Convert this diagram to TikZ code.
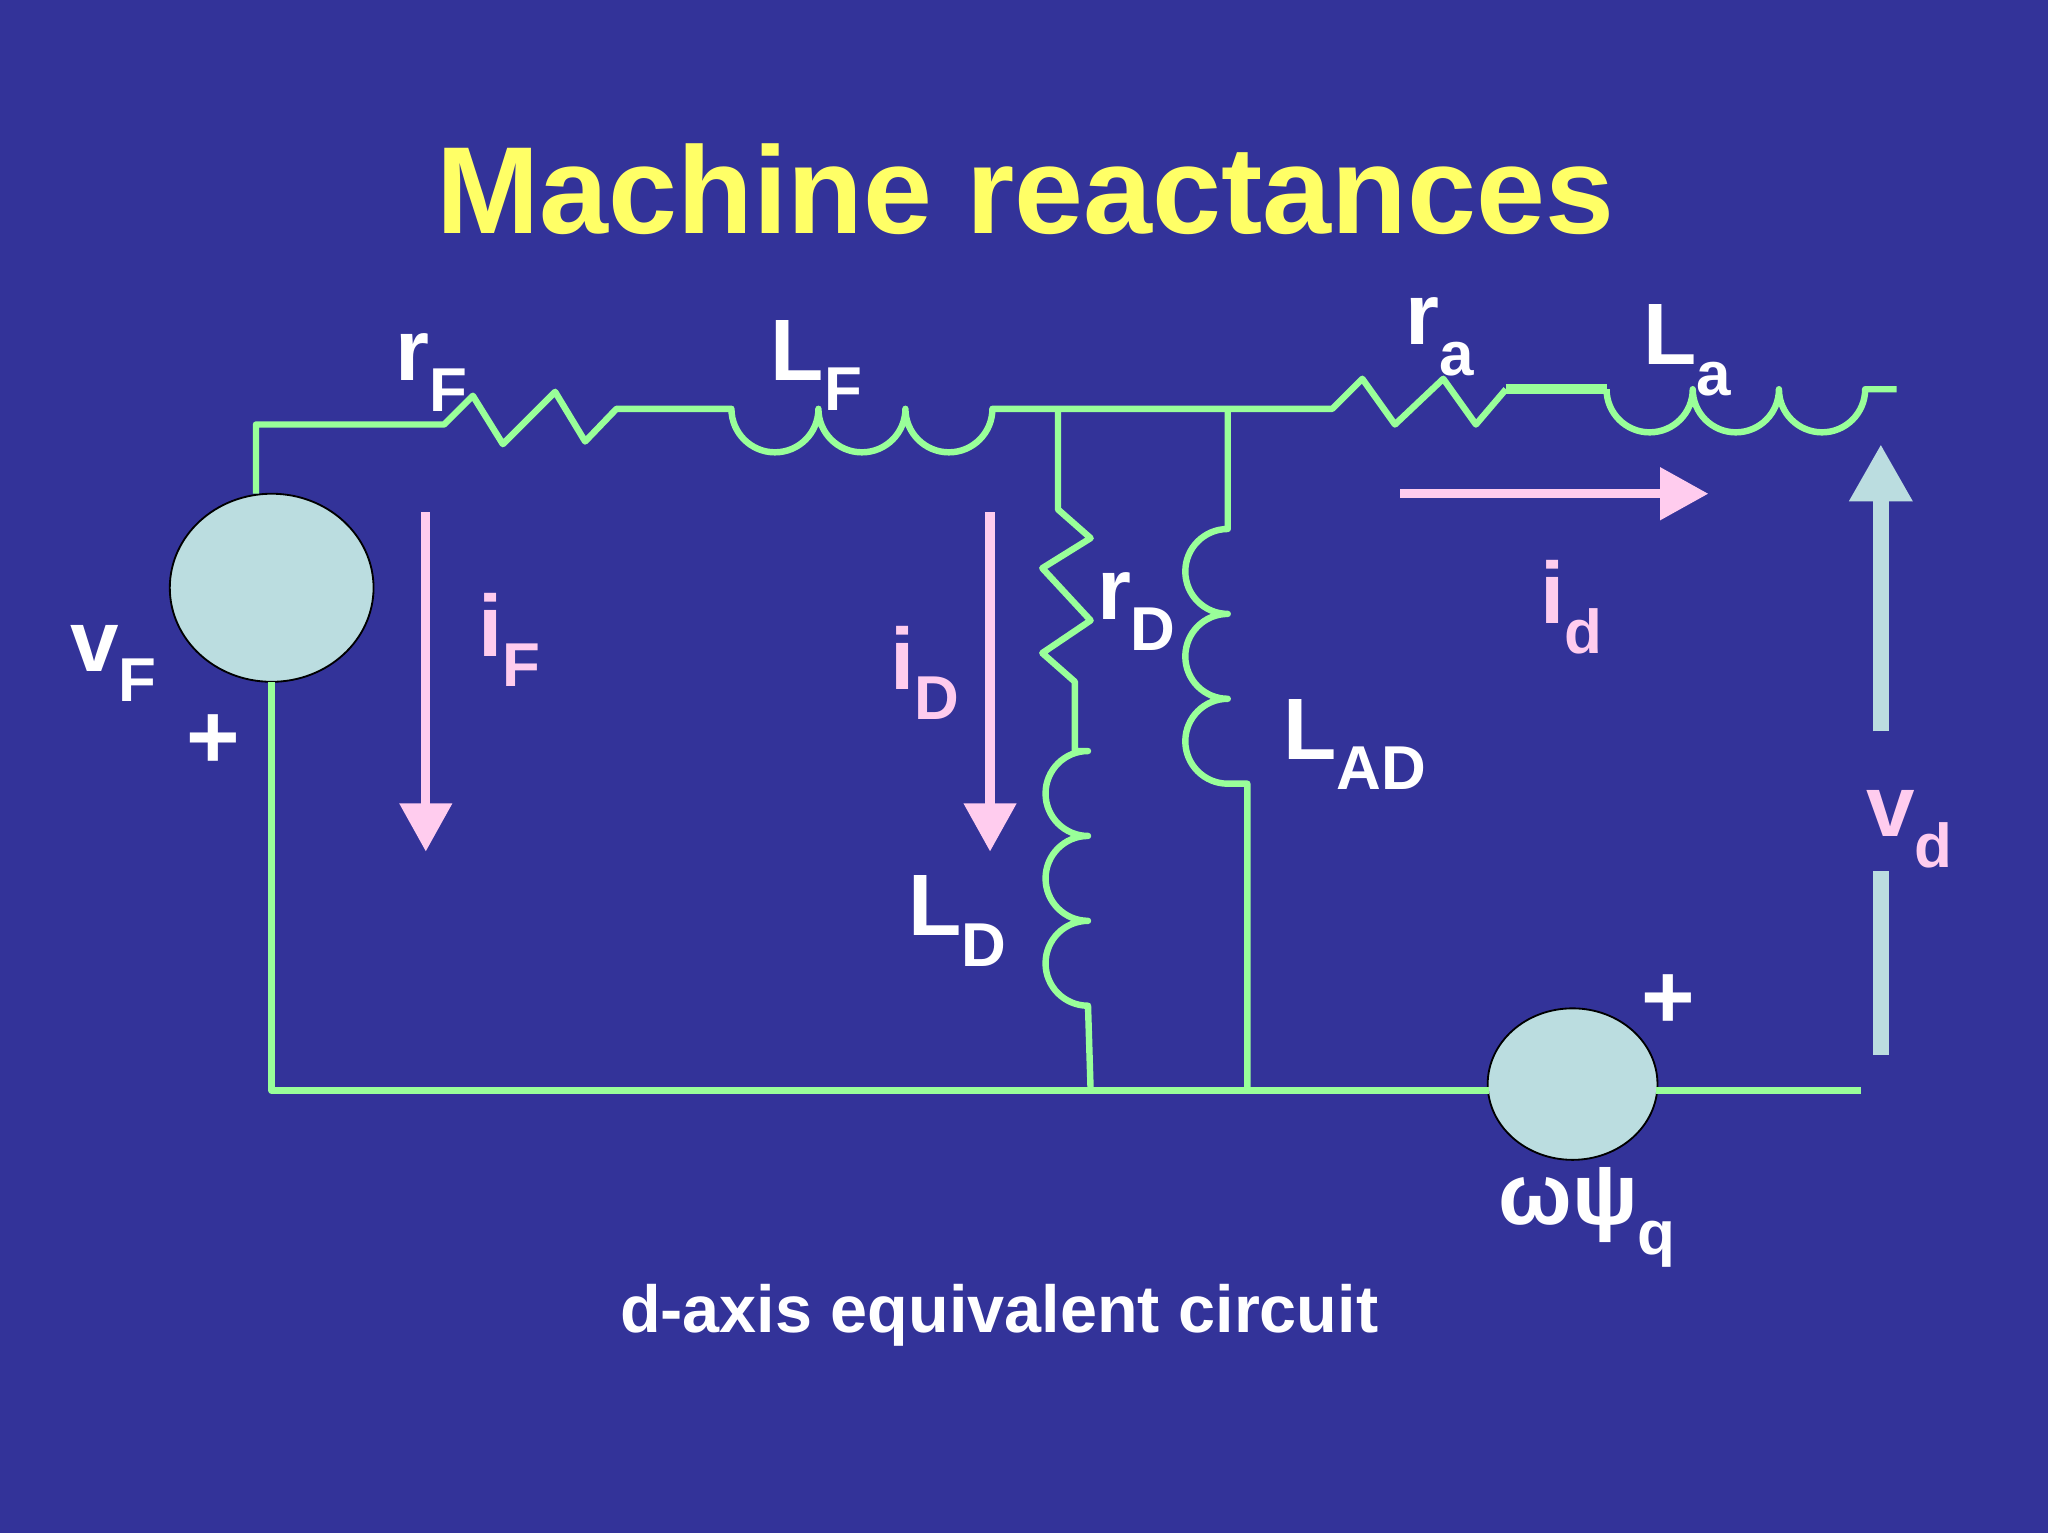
\documentclass[tikz,border=0pt]{standalone}
\usepackage{fontspec}
\setmainfont{Liberation Sans}
\usetikzlibrary{arrows.meta}
\definecolor{bg}{HTML}{333399}
\definecolor{wire}{HTML}{99FF99}
\definecolor{ttl}{HTML}{FFFF66}
\definecolor{pnk}{HTML}{FFCCEE}
\definecolor{src}{HTML}{BBDDE0}
\newcommand\lb[3][38]{\fontsize{#1}{#1}\selectfont\bfseries #2\raisebox{-0.35em}{\fontsize{27}{27}\selectfont #3}}
\begin{document}
\begin{tikzpicture}[x=0.02cm,y=-0.02cm,
  w/.style={draw=wire,line width=2.8pt,line join=round},
  cur/.style={draw=pnk,line width=4pt,-{Triangle[width=22pt,length=21pt]}},
  srcs/.style={fill=src,draw=black,line width=0.8pt},
  wl/.style={text=white,inner sep=0pt},
  pl/.style={text=pnk,inner sep=0pt}]
\fill[bg] (0,0) rectangle (1568,1174);
\useasboundingbox (0,0) rectangle (1568,1174);
\node[text=ttl,font=\fontsize{54}{54}\selectfont\bfseries] (title) at (785,145) {Machine reactances};
% sources
\path[srcs] (208,450) ellipse [x radius=78,y radius=72];
\coordinate (s1) at (208,450);
\path[srcs] (1204,830) ellipse [x radius=65,y radius=58];
\coordinate (s2) at (1204,830);
% top wires
\draw[w] (196,378) -- (196,325) -- (340,325) -- (362,303) -- (385,340) -- (425,300) -- (448,338) -- (472,313) -- (560,313)
  arc[start angle=180,end angle=0,radius=33.3] arc[start angle=180,end angle=0,radius=33.3] arc[start angle=180,end angle=0,radius=33.3]
  -- (1020,313) -- (1043,290) -- (1068,325) -- (1105,290) -- (1130,325) -- (1153,298);
\draw[draw=wire,line width=4.5pt] (1153,298) -- (1230,298);
\draw[w] (1230,298) arc[start angle=180,end angle=0,radius=33] arc[start angle=180,end angle=0,radius=33] arc[start angle=180,end angle=0,radius=33] -- (1452,298);
% rD LD branch
\draw[w] (810,313) -- (810,390) -- (835,412) -- (798,435) -- (835,475) -- (798,500) -- (823,522) -- (823,575) -- (833,575)
  arc[start angle=270,end angle=90,radius=32.5] arc[start angle=270,end angle=90,radius=32.5] arc[start angle=270,end angle=90,radius=32.5]
  -- (835,835);
% LAD branch
\draw[w] (940,313) -- (940,405) arc[start angle=270,end angle=90,radius=32.5] arc[start angle=270,end angle=90,radius=32.5] arc[start angle=270,end angle=90,radius=32.5] -- (955,600) -- (955,835);
% bottom
\draw[w] (208,522) -- (208,835) -- (1140,835);
\draw[w] (1268,835) -- (1425,835);
% currents
\draw[cur] (326,392) -- (326,652);
\draw[cur] (758,392) -- (758,652);
\draw[cur] (1072,378) -- (1308,378);
\draw[draw=src,line width=7pt,-{Triangle[width=26pt,length=25pt]}] (1440,560) -- (1440,340);
\draw[draw=src,line width=7pt] (1440,667) -- (1440,808);
% labels
\node[wl] (lrF) at (330,285) {\lb{r}{F}};
\node[wl] (lLF) at (625,280) {\lb{L}{F}};
\node[wl] (lra) at (1102,258) {\lb{r}{a}};
\node[wl] (lLa) at (1292,268) {\lb{L}{a}};
\node[wl] (lrD) at (870,468) {\lb{r}{D}};
\node[wl] (lLAD) at (1037,570) {\lb{L}{AD}};
\node[wl] (lLD) at (733,705) {\lb{L}{D}};
\node[wl] (lvF) at (87,508) {\lb{v}{F}};
\node[wl,font=\fontsize{40}{40}\selectfont\bfseries] (p1) at (163,568) {+};
\node[wl,font=\fontsize{40}{40}\selectfont\bfseries] (p2) at (1277,767) {+};
\node[wl] (lw) at (1215,932) {\lb{ωψ}{q}};
\node[pl] (liF) at (390,490) {\lb{i}{F}};
\node[pl] (liD) at (708,515) {\lb{i}{D}};
\node[pl] (lid) at (1203,465) {\lb{i}{d}};
\node[pl] (lvd) at (1462,635) {\lb{v}{d}};
\node[wl,font=\fontsize{29}{29}\selectfont\bfseries] (cap) at (765,1007) {d-axis equivalent circuit};
\end{tikzpicture}
\end{document}
